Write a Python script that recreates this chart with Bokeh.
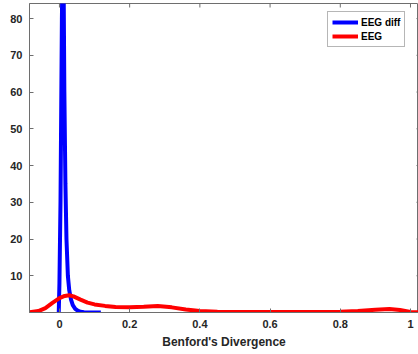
import math
from bokeh.plotting import figure
from bokeh.models import Range1d, FixedTicker, Legend, LegendItem
from bokeh.embed import file_html
from bokeh.resources import INLINE

# Data (density estimates)
eeg_diff_x = [-0.002, 0.0, 0.003, 0.005, 0.007, 0.009, 0.010, 0.012, 0.014, 0.017, 0.020, 0.024, 0.028, 0.033, 0.038, 0.045, 0.052, 0.060, 0.070, 0.085, 0.100, 0.118]
eeg_diff_y = [0.0, 8.0, 30.0, 55.0, 80.0, 95.0, 100.0, 88.0, 60.0, 35.0, 20.0, 10.0, 6.0, 3.5, 2.0, 1.0, 0.5, 0.2, 0.08, 0.02, 0.0, 0.0]

eeg_x = [-0.085, -0.06, -0.04, -0.02, 0.0, 0.015, 0.028, 0.04, 0.06, 0.08, 0.10, 0.13, 0.16, 0.20, 0.24, 0.28, 0.32, 0.36, 0.40, 0.45, 0.50, 0.60, 0.70, 0.80, 0.85, 0.90, 0.94, 0.97, 1.0, 1.03]
eeg_y = [0.1, 0.4, 1.2, 2.6, 3.9, 4.5, 4.7, 4.4, 3.5, 2.7, 2.2, 1.8, 1.5, 1.45, 1.55, 1.75, 1.4, 0.8, 0.4, 0.2, 0.15, 0.12, 0.12, 0.2, 0.4, 0.75, 0.95, 0.7, 0.15, 0.05]

x_ticks = [0, 0.2, 0.4, 0.6, 0.8, 1.0]
x_tick_labels = ["0", "0.2", "0.4", "0.6", "0.8", "1"]
y_ticks = [10, 20, 30, 40, 50, 60, 70, 80]

X0, X1 = -0.0853, 1.0228
Y0, Y1 = 0.0, 84.1
FONT = "Liberation Sans"
AX = "#262626"
FRAME = "#6e6e6e"

p = figure(width=418, height=354, output_backend="svg", toolbar_location=None,
           x_range=Range1d(X0, X1), y_range=Range1d(Y0, Y1),
           min_border_left=29, min_border_right=0, min_border_top=3, min_border_bottom=42)
p.background_fill_color = "white"
p.border_fill_color = "white"
p.grid.visible = False
p.outline_line_color = FRAME
p.outline_line_width = 1

r1 = p.line(eeg_diff_x, eeg_diff_y, line_color="#0000ff", line_width=4)
r2 = p.line(eeg_x, eeg_y, line_color="#ff0000", line_width=4)

# box ticks (top and right), half of each dash is clipped by the frame
p.scatter(x_ticks, [Y1] * len(x_ticks), marker="dash", angle=math.pi / 2, size=8,
          line_color=FRAME, line_width=1)
p.scatter([X1 + 0.0057] * len(y_ticks), y_ticks, marker="dash", size=8,
          line_color=FRAME, line_width=1)

def style(ax):
    ax.axis_line_color = FRAME
    ax.major_tick_line_color = FRAME
    ax.major_tick_in = 4
    ax.major_tick_out = 0
    ax.minor_tick_line_color = None
    ax.major_label_text_font = FONT
    ax.major_label_text_font_style = "bold"
    ax.major_label_text_color = AX
    ax.major_label_text_font_size = "11px"

xa = p.xaxis[0]
style(xa)
xa.ticker = FixedTicker(ticks=x_ticks)
xa.major_label_overrides = {t: l for t, l in zip(x_ticks, x_tick_labels)}
xa.major_label_standoff = 7
xa.axis_label = "Benford's Divergence"
xa.axis_label_text_font = FONT
xa.axis_label_text_font_style = "bold"
xa.axis_label_text_font_size = "12px"
xa.axis_label_text_color = AX
xa.axis_label_standoff = 4

ya = p.yaxis[0]
style(ya)
ya.ticker = FixedTicker(ticks=y_ticks)
ya.major_label_standoff = 7

legend = Legend(items=[LegendItem(label="EEG diff", renderers=[r1]),
                       LegendItem(label="EEG", renderers=[r2])],
                location=(298, 265))
legend.label_text_font = FONT
legend.label_text_font_style = "bold"
legend.label_text_font_size = "10px"
legend.label_text_color = "#000000"
legend.glyph_width = 26
legend.glyph_height = 12
legend.label_height = 12
legend.label_standoff = 3
legend.spacing = 2
legend.padding = 4
legend.margin = 0
legend.border_line_color = FRAME
legend.border_line_width = 1
legend.background_fill_alpha = 1
p.add_layout(legend, "center")

open("out.html", "w").write(file_html(p, INLINE))
